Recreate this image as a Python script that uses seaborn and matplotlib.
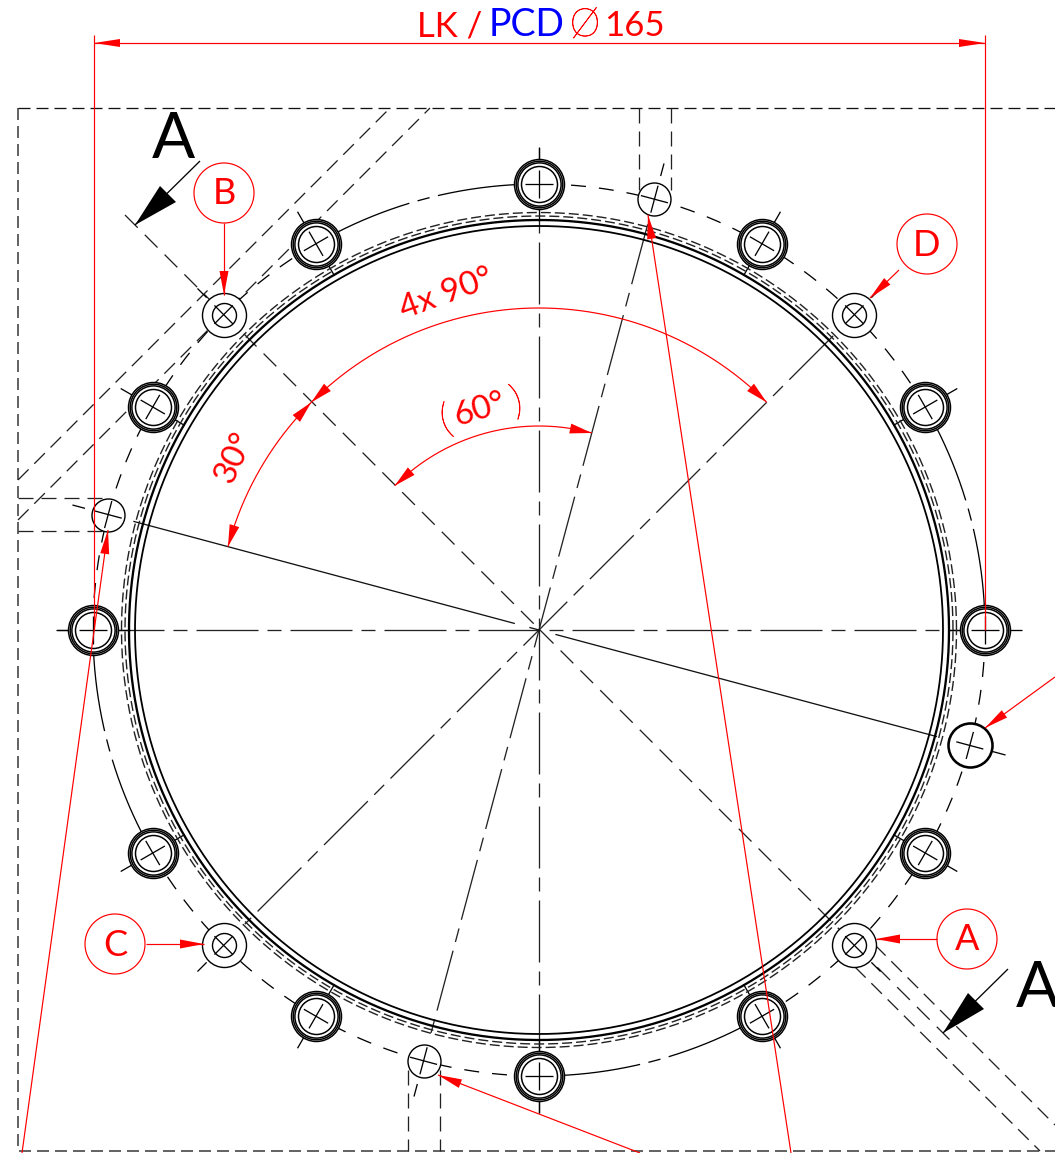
"""
Flange bolt circle drawing, LK / PCD 165
"""

import numpy as np
import matplotlib.pyplot as plt
import matplotlib.patheffects as pe
import seaborn as sns

# drawing units are pixels of the original sheet
CX, CY = 539, 630
PX = 0.72  # points per pixel at dpi 100

# hole pattern
pcd_radius = 446
bolt_angles = [0, 30, 60, 90, 120, 150, 180, 210, 240, 270, 300, 330]
bolt_ring_radii = [25, 23.3, 21.6, 18]
target_angles = [45, 135, 225, 315]
target_ring_radii = [22, 12]
pin_angles = [75, 165, 255]
pin_radius = 16.5
thick_pin_angle = 345
thick_pin_radius = 22

# pcd circle: chain spans hold a short dash in the middle, the rest is dashed
pcd_chain_spans = [(0, 15, 30), (90, 105, 120), (180, 195, 210), (270, 285, 300)]
pcd_dash_spans = [(30, 90), (120, 180), (210, 270), (300, 360)]

# flange rings
solid_rings = [(404, 1.8), (410, 2.3)]
hidden_rings = [414, 417.5]

# sheet frame and hidden bores
frame_x = [18, 18, 1055]
frame_y = [108, 1151, 1151]
frame_top_x = [18, 1055]
frame_top_y = [108, 108]
hidden_lines = [
    ((18, 480), (390, 108)),
    ((18, 520), (430, 108)),
    ((639, 108), (639, 190)),
    ((671, 108), (671, 190)),
    ((18, 498), (105, 498)),
    ((18, 531), (105, 531)),
    ((408, 1070), (408, 1151)),
    ((440, 1070), (440, 1151)),
    ((875, 945), (1055, 1125)),
    ((855, 967), (1040, 1151)),
]

# center lines through the hub, by angle and radius
chain_lines = [(0, 471, 180, 482), (90, 482, 270, 483), (45, 416, 225, 416), (75, 420, 255, 418)]
long_lines = [(165, 420, 345, 420)]
section_line = ((125, 215), (955, 1045))

# red dimensions
dim_y = 43
dim_left = 94
dim_right = 985
dim_top = 35
dim_bottom = 630
big_arc_radius = 322
small_arc_radius = 204
angle_dims = [(big_arc_radius, 45, 135), (big_arc_radius, 135, 165), (small_arc_radius, 75, 135)]

# red leader lines, start then arrow tip
leaders = [
    ((224, 223), (224, 295)),
    ((899, 270), (870, 298)),
    ((937, 939), (876, 939)),
    ((146, 944), (204, 944)),
    ((22, 1153), (108, 530)),
    ((791, 1153), (648, 215)),
    ((1055, 677), (985, 728)),
    ((640, 1153), (438, 1075)),
]

balloon_labels = ["B", "D", "A", "C"]
balloon_x = [224, 927, 967, 115]
balloon_y = [193, 244, 939, 944]
balloon_radius = 30

# section arrows: tail, tip, wing 1, wing 2, label position
section_arrows = [
    ((200, 161), (135, 225), (160, 186), (176, 202), (173, 158)),
    ((1008, 969), (943, 1033), (968, 993), (984, 1009), (1037, 1007)),
]

# dash patterns in pixels
CHAIN = (62, 9, 14, 9)
FRAME = (12, 6)
HIDDEN = (15, 8)
SECTION = (18, 10)
RING_HIDDEN = (10, 4)
PCD_DASH = (15, 13)

sns.set_theme(style="white")
plt.rcParams["font.family"] = ["Lato", "DejaVu Sans"]
plt.rcParams["lines.scale_dashes"] = False
plt.rcParams["lines.solid_capstyle"] = "butt"
plt.rcParams["lines.dash_capstyle"] = "butt"

THIN_RED = [pe.withStroke(linewidth=0.5, foreground="red")]


def polar(angle, radius):
    a = np.radians(angle)
    return CX + radius * np.cos(a), CY - radius * np.sin(a)


def dash(pattern):
    return (0, tuple(p * PX for p in pattern))


def line(ax, xs, ys, color="black", lw=1.3, pattern=None, zorder=2):
    ls = dash(pattern) if pattern else "-"
    sns.lineplot(x=list(xs), y=list(ys), sort=False, estimator=None, errorbar=None,
                 color=color, linewidth=lw * PX, linestyle=ls, zorder=zorder, ax=ax)


def arc(ax, radius, start, end, **kwargs):
    t = np.linspace(start, end, 240)
    xs, ys = polar(t, radius)
    line(ax, xs, ys, **kwargs)


def rings(ax, angles, radius_on_pcd, ring_radius, lw, fill=False, zorder=4):
    xs, ys = polar(np.array(angles, dtype=float), radius_on_pcd)
    size = (2 * ring_radius * PX) ** 2
    sns.scatterplot(x=xs, y=ys, s=size, color="white" if fill else "none", edgecolor="black",
                    linewidth=lw * PX, zorder=zorder, legend=False, ax=ax)


def cross(ax, angle, arm, lw=1.3):
    x, y = polar(angle, pcd_radius)
    for d in (0, 90):
        dx = arm * np.cos(np.radians(angle + d))
        dy = arm * np.sin(np.radians(angle + d))
        line(ax, [x - dx, x + dx], [y + dy, y - dy], lw=lw, zorder=6)


def head(ax, start, tip, length=26, width=8, color="red"):
    u = np.array(tip, dtype=float) - np.array(start, dtype=float)
    u /= np.hypot(*u)
    n = np.array([-u[1], u[0]])
    base = np.array(tip) - u * length
    pts = np.array([tip, base + n * width, base - n * width])
    ax.fill(pts[:, 0], pts[:, 1], color=color, lw=0, zorder=8)


def arc_head(ax, radius, angle, towards, **kwargs):
    # arrow head tangent to a dimension arc
    step = 24 / radius * 180 / np.pi * towards
    head(ax, polar(angle + step, radius), polar(angle, radius), **kwargs)


fig, ax = plt.subplots(figsize=(10.55, 11.53), dpi=100)
fig.subplots_adjust(0, 0, 1, 1)

# -------------------------
# FRAME AND HIDDEN LINES
# -------------------------
line(ax, frame_x, frame_y, color="#333333", lw=1.5, pattern=FRAME)
line(ax, frame_top_x, frame_top_y, color="#111111", pattern=FRAME)
for a, b in hidden_lines:
    line(ax, [a[0], b[0]], [a[1], b[1]], color="#222222", pattern=HIDDEN)

# -------------------------
# CENTER LINES
# -------------------------
for a1, r1, a2, r2 in chain_lines:
    x1, y1 = polar(a1, r1)
    x2, y2 = polar(a2, r2)
    line(ax, [x1, x2], [y1, y2], color="#222222", pattern=CHAIN)
for a1, r1, a2, r2 in long_lines:
    x1, y1 = polar(a1, r1)
    x2, y2 = polar(a2, r2)
    line(ax, [x1, x2], [y1, y2], color="#111111", pattern=(395, 15, 12, 15, 395))
line(ax, [section_line[0][0], section_line[1][0]], [section_line[0][1], section_line[1][1]],
     color="#222222", pattern=SECTION)

# -------------------------
# FLANGE RINGS
# -------------------------
for a1, mid, a2 in pcd_chain_spans:
    arc(ax, pcd_radius, a1, mid - 1.9)
    arc(ax, pcd_radius, mid - 0.8, mid + 0.8)
    arc(ax, pcd_radius, mid + 1.9, a2)
for a1, a2 in pcd_dash_spans:
    arc(ax, pcd_radius, a1, a2, pattern=PCD_DASH)
for r, w in solid_rings:
    arc(ax, r, 0, 360, lw=w, zorder=3)
for r in hidden_rings:
    arc(ax, r, 0, 360, color="#222222", lw=1.4, pattern=RING_HIDDEN, zorder=3)

# radial ticks either side of each hole
for a in bolt_angles + target_angles + pin_angles + [thick_pin_angle]:
    x1, y1 = polar(a, pcd_radius + 24)
    x2, y2 = polar(a, pcd_radius + 37)
    line(ax, [x1, x2], [y1, y2])
for a in bolt_angles:
    x1, y1 = polar(a, pcd_radius - 24)
    x2, y2 = polar(a, pcd_radius - 37)
    line(ax, [x1, x2], [y1, y2])

# -------------------------
# HOLES
# -------------------------
for i, r in enumerate(bolt_ring_radii):
    rings(ax, bolt_angles, pcd_radius, r, 1.5, fill=True, zorder=4 + i * 0.1)
for i, r in enumerate(target_ring_radii):
    rings(ax, target_angles, pcd_radius, r, 1.4, fill=True, zorder=4 + i * 0.1)
rings(ax, pin_angles, pcd_radius, pin_radius, 1.4, fill=True)
rings(ax, [thick_pin_angle], pcd_radius, thick_pin_radius, 2.6, fill=True)
for a in bolt_angles + pin_angles + [thick_pin_angle]:
    cross(ax, a, 14)
for a in target_angles:
    cross(ax, a, 13)

# -------------------------
# RED DIMENSIONS
# -------------------------
line(ax, [dim_left, dim_right], [dim_y, dim_y], color="red", lw=1.2, zorder=7)
for x in (dim_left, dim_right):
    line(ax, [x, x], [dim_top, dim_bottom], color="red", lw=1.2, zorder=7)
head(ax, (dim_right, dim_y), (dim_left, dim_y), length=26, width=4)
head(ax, (dim_left, dim_y), (dim_right, dim_y), length=26, width=4)

for r, a1, a2 in angle_dims:
    arc(ax, r, a1, a2, color="red", lw=1.2, zorder=7)
    arc_head(ax, r, a1, 1, length=22, width=5)
    arc_head(ax, r, a2, -1, length=22, width=5)

for start, tip in leaders:
    line(ax, [start[0], tip[0]], [start[1], tip[1]], color="red", lw=1.2, zorder=7)
    head(ax, start, tip, length=24, width=4.5)

for label, x, y in zip(balloon_labels, balloon_x, balloon_y):
    t = np.linspace(0, 2 * np.pi, 120)
    line(ax, x + balloon_radius * np.cos(t), y + balloon_radius * np.sin(t), color="red", lw=1.2, zorder=7)
    ax.text(x, y + 1, label, color="red", fontsize=26, ha="center", va="center", zorder=9)

# title pieces
ax.text(417, 36, "LK /", color="red", fontsize=25, ha="left", va="baseline")
ax.text(489, 36, "PCD", color="blue", fontsize=27, ha="left", va="baseline")
ax.text(585, 36, "Ø", color="red", fontsize=28, fontweight="light", ha="center", va="baseline",
        path_effects=THIN_RED)
ax.text(604, 36, "165", color="red", fontsize=25, ha="left", va="baseline")

# angle labels
ax.text(446, 294, "4x 90°", color="red", fontsize=24, rotation=20, ha="center", va="center")
ax.text(235, 457, "30°", color="red", fontsize=24, rotation=65, ha="center", va="center")
ax.text(480, 410, "60°", color="red", fontsize=24, rotation=17, ha="center", va="center")
ax.text(446, 422, "(", color="red", fontsize=30, fontweight="light", rotation=15, ha="center", va="center",
        path_effects=THIN_RED)
ax.text(517, 403, ")", color="red", fontsize=30, fontweight="light", rotation=15, ha="center", va="center",
        path_effects=THIN_RED)

# -------------------------
# SECTION ARROWS
# -------------------------
for tail, tip, w1, w2, pos in section_arrows:
    line(ax, [tail[0], tip[0]], [tail[1], tip[1]])
    pts = np.array([tip, w1, w2])
    ax.fill(pts[:, 0], pts[:, 1], color="black", lw=0, zorder=8)
    ax.text(pos[0], pos[1], "A", color="black", fontsize=46, ha="center", va="baseline")

ax.set_xlim(0, 1055)
ax.set_ylim(1153, 0)
ax.set_axis_off()

fig.savefig("out.png", dpi=100)
plt.close(fig)
